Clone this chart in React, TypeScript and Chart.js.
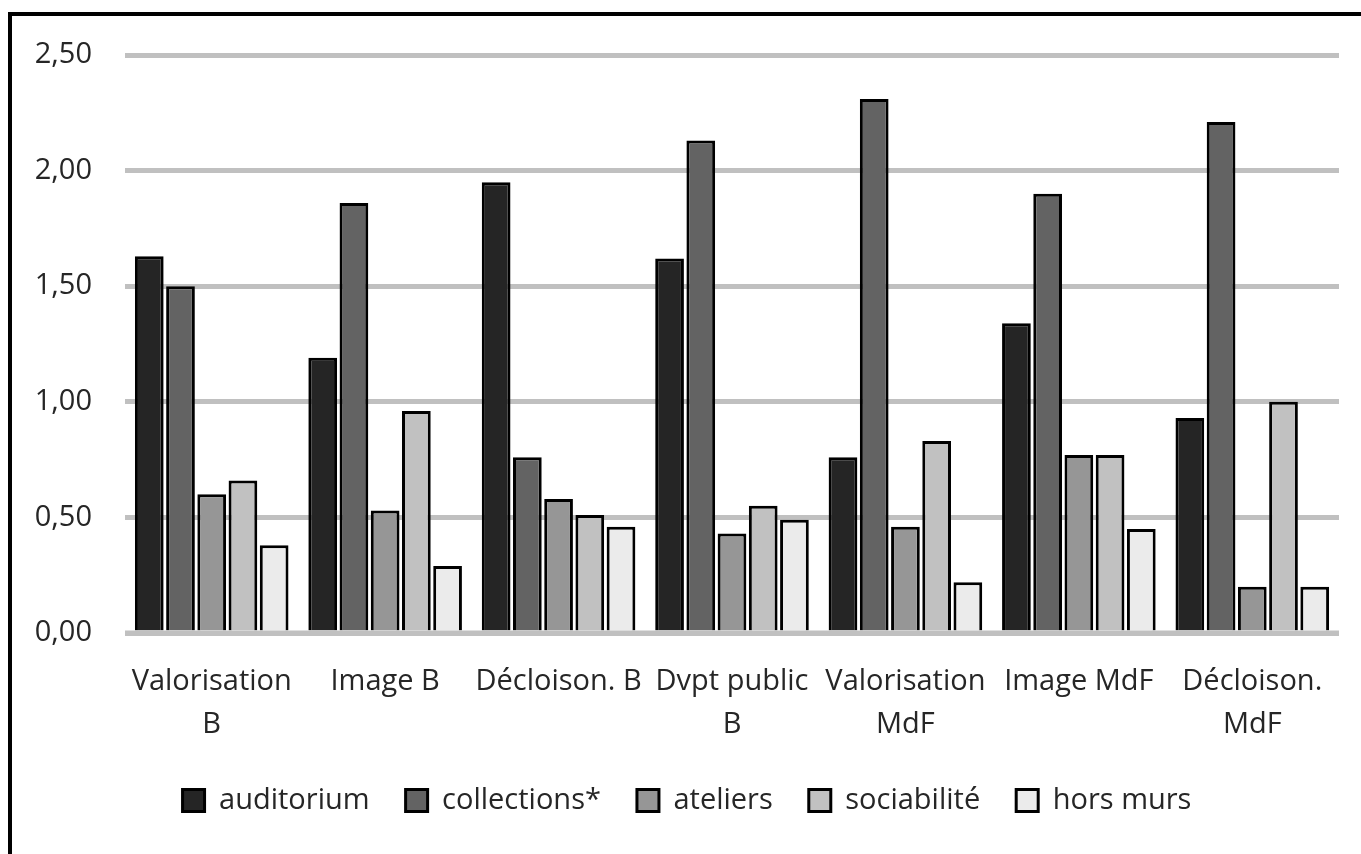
import React, { useEffect, useRef } from "react";
import { Chart, registerables } from "chart.js";

Chart.register(...registerables);

const categories: (string | string[])[] = [
  ["Valorisation", "B"],
  "Image B",
  "Décloison. B",
  ["Dvpt public", "B"],
  ["Valorisation", "MdF"],
  "Image MdF",
  ["Décloison.", "MdF"],
];

const seriesNames = ["auditorium", "collections*", "ateliers", "sociabilité", "hors murs"];
const seriesColors = ["#252525", "#636363", "#969696", "#c1c1c1", "#ebebeb"];

const auditorium = [1.63, 1.19, 1.95, 1.62, 0.76, 1.34, 0.93];
const collections = [1.5, 1.86, 0.76, 2.13, 2.31, 1.9, 2.21];
const ateliers = [0.6, 0.53, 0.58, 0.43, 0.46, 0.77, 0.2];
const sociabilite = [0.66, 0.96, 0.51, 0.55, 0.83, 0.77, 1.0];
const horsMurs = [0.38, 0.29, 0.46, 0.49, 0.22, 0.45, 0.2];

const seriesValues = [auditorium, collections, ateliers, sociabilite, horsMurs];

const yMin = 0;
const yMax = 2.5;
const yStep = 0.5;

const TEXT = "#262626";
const GRID = "#c0c0c0";

export default function App() {
  const ref = useRef<HTMLCanvasElement | null>(null);

  useEffect(() => {
    if (!ref.current) return;
    const zeroLine = {
      id: "zeroLine",
      afterDatasetsDraw(chart: any) {
        const { ctx, chartArea, scales } = chart;
        const y = scales.y.getPixelForValue(0);
        ctx.save();
        ctx.strokeStyle = GRID;
        ctx.lineWidth = 5;
        ctx.beginPath();
        ctx.moveTo(chartArea.left, y);
        ctx.lineTo(chartArea.right, y);
        ctx.stroke();
        ctx.restore();
      },
    };
    const chart = new Chart(ref.current, {
      type: "bar",
      data: {
        labels: categories,
        datasets: seriesValues.map((vals, i) => ({
          label: seriesNames[i],
          data: vals,
          backgroundColor: seriesColors[i],
          borderColor: "#000000",
          borderWidth: 3,
          categoryPercentage: 0.9,
          barPercentage: 0.92,
        })),
      },
      options: {
        responsive: false,
        animation: false,
        layout: { padding: { top: 39, right: 22, bottom: 29, left: 23 } },
        scales: {
          x: {
            grid: { display: false, drawTicks: false },
            border: { display: false },
            afterFit: (scale: any) => {
              scale.paddingLeft = 0;
              scale.paddingRight = 0;
              scale.height = 117;
            },
            ticks: {
              color: TEXT,
              padding: 27,
              maxRotation: 0,
              autoSkip: false,
              font: { family: "'Open Sans'", size: 29, lineHeight: 1.48 },
            },
          },
          y: {
            min: yMin,
            max: yMax,
            grid: { color: GRID, lineWidth: 5, drawTicks: false },
            border: { display: false },
            afterFit: (scale: any) => {
              scale.paddingTop = 0;
              scale.paddingBottom = 0;
              scale.width = 90;
            },
            ticks: {
              stepSize: yStep,
              color: TEXT,
              padding: 33,
              font: { family: "'Open Sans'", size: 29 },
              callback: (v: any) => Number(v).toFixed(2).replace(".", ","),
            },
          },
        },
        plugins: {
          legend: {
            position: "bottom",
            labels: {
              color: TEXT,
              boxWidth: 22,
              boxHeight: 22,
              padding: 36,
              font: { family: "'Open Sans'", size: 29 },
            },
          },
          tooltip: { enabled: false },
        },
      },
      plugins: [zeroLine],
    });
    return () => chart.destroy();
  }, []);

  return (
    <div
      style={{
        position: "fixed",
        left: 8,
        top: 12,
        width: 1353,
        height: 842,
        borderLeft: "4px solid #000",
        borderTop: "4px solid #000",
        background: "#fff",
        boxSizing: "border-box",
      }}
    >
      <canvas ref={ref} width={1349} height={838} style={{ display: "block" }} />
    </div>
  );
}
